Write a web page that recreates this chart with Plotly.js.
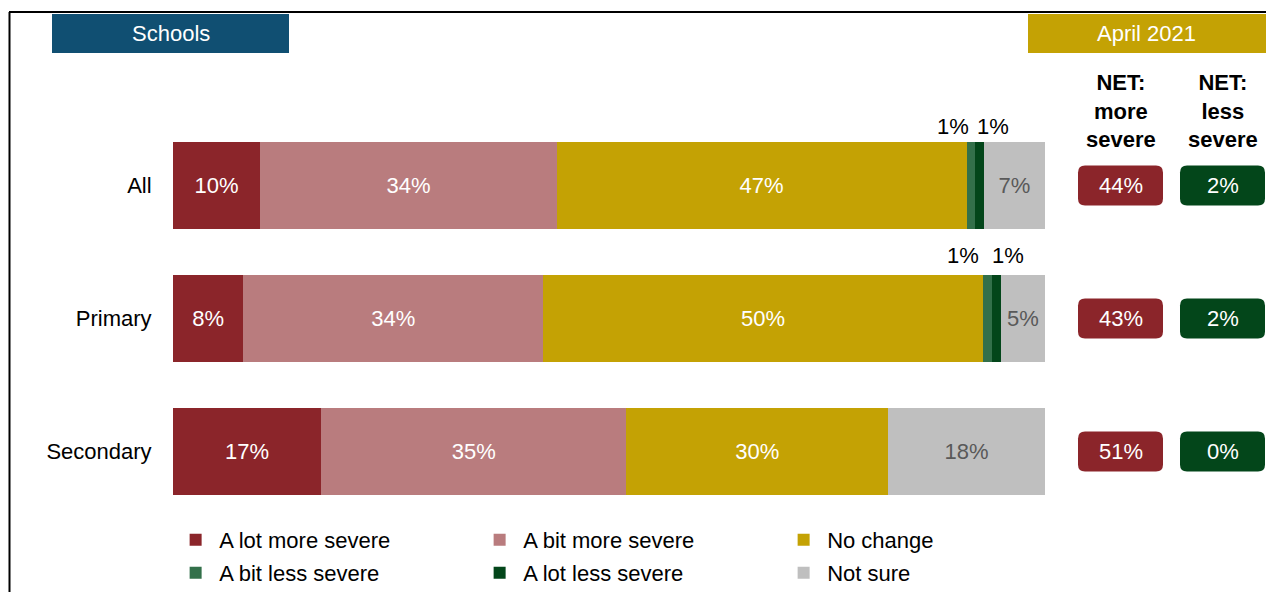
<!DOCTYPE html>
<html><head><meta charset="utf-8">
<script src="https://cdn.plot.ly/plotly-3.0.1.min.js"></script>
<style>html,body{margin:0;padding:0;background:#fff}</style>
</head><body><div id="chart" style="width:1266px;height:592px"></div>
<script>
// ---- data ----
const categories = ['All', 'Primary', 'Secondary'];
const seriesNames = ['A lot more severe', 'A bit more severe', 'No change', 'A bit less severe', 'A lot less severe', 'Not sure'];
const aLotMore = [10, 8, 17];
const aBitMore = [34, 34, 35];
const noChange = [47, 50, 30];
const aBitLess = [1, 1, 0];
const aLotLess = [1, 1, 0];
const notSure = [7, 5, 18];
const netMore = [44, 43, 51];
const netLess = [2, 2, 0];
const headerLeft = 'Schools';
const headerRight = 'April 2021';
const netMoreTitle = 'NET:<br>more<br>severe';
const netLessTitle = 'NET:<br>less<br>severe';

// ---- styling ----
const FONT = 'Liberation Sans, Arial, sans-serif';
const FS = 22;
const colors = ['#8B252A', '#B97C7E', '#C4A204', '#33704A', '#03461A', '#BFBFBF'];
const textColors = ['#FFFFFF', '#FFFFFF', '#FFFFFF', '#FFFFFF', '#FFFFFF', '#595959'];
const inBarText = [true, true, true, false, false, true];
const legendOf = ['legend', 'legend', 'legend', 'legend2', 'legend2', 'legend2'];
const series = [aLotMore, aBitMore, noChange, aBitLess, aLotLess, notSure];

const W = 1266, H = 592, L = 173, R = 221, T = 119, B = 74;
const pw = W - L - R, ph = H - T - B;
const px2x = p => (p - L) / pw;
const py2y = p => (H - B - p) / ph;

const traces = series.map((vals, i) => ({
  type: 'bar', orientation: 'h',
  y: categories, x: vals, name: seriesNames[i], legend: legendOf[i],
  marker: {color: colors[i], line: {width: 0}},
  text: inBarText[i] ? vals.map(v => v + '%') : vals.map(() => ''),
  textposition: 'inside', insidetextanchor: 'middle', constraintext: 'none',
  textfont: {family: FONT, size: FS, color: textColors[i]},
  hoverinfo: 'skip'
}));

const annotations = [];
const ann = o => annotations.push(Object.assign({showarrow: false, xanchor: 'center', yanchor: 'middle'}, o));

// small labels above the tiny segments
const smallShift = {3: [-18, -25], 4: [13, 11]};
const yShift = [59, 63, 60];
categories.forEach((c, r) => {
  const total = series.reduce((s, arr) => s + arr[r], 0);
  let cum = 0;
  series.forEach((arr, i) => {
    const v = arr[r];
    if (!inBarText[i] && v > 0) {
      ann({x: (cum + v / 2) / total * 100, y: c, xref: 'x', yref: 'y',
        text: v + '%', xshift: smallShift[i][r] || 0, yshift: yShift[r],
        font: {family: FONT, size: FS, color: '#000'}});
    }
    cum += v;
  });
});

const netCols = [{x: px2x(1120.5), vals: netMore, color: '#8B252A', title: netMoreTitle},
                 {x: px2x(1222.5), vals: netLess, color: '#03461A', title: netLessTitle}];

function roundRect(w, h, r) {
  const hw = w / 2, hh = h / 2;
  return `M ${-hw + r},${-hh} L ${hw - r},${-hh} Q ${hw},${-hh} ${hw},${-hh + r} L ${hw},${hh - r} Q ${hw},${hh} ${hw - r},${hh} L ${-hw + r},${hh} Q ${-hw},${hh} ${-hw},${hh - r} L ${-hw},${-hh + r} Q ${-hw},${-hh} ${-hw + r},${-hh} Z`;
}

const shapes = [
  {type: 'line', xref: 'paper', yref: 'paper', x0: px2x(9), x1: px2x(1266), y0: py2y(12), y1: py2y(12), line: {color: '#000', width: 2}},
  {type: 'line', xref: 'paper', yref: 'paper', x0: px2x(9.5), x1: px2x(9.5), y0: py2y(12), y1: py2y(592), line: {color: '#000', width: 2}},
  {type: 'rect', xref: 'paper', yref: 'paper', x0: px2x(52), x1: px2x(289), y0: py2y(14), y1: py2y(53), fillcolor: '#104F72', line: {width: 0}},
  {type: 'rect', xref: 'paper', yref: 'paper', x0: px2x(1028), x1: px2x(1266), y0: py2y(14), y1: py2y(53), fillcolor: '#C4A204', line: {width: 0}}
];

ann({xref: 'paper', yref: 'paper', x: px2x(170.5), y: py2y(33.5), text: headerLeft,
   font: {family: FONT, size: FS, color: '#fff'}});
ann({xref: 'paper', yref: 'paper', x: px2x(1146), y: py2y(33.5), text: headerRight,
   font: {family: FONT, size: FS, color: '#fff'}});

netCols.forEach(col => {
  ann({xref: 'paper', yref: 'paper', x: col.x, y: py2y(111), text: '<b>' + col.title.split('<br>').join('</b><br><b>') + '</b>',
    font: {family: FONT, size: FS, color: '#000'}, align: 'center'});
  categories.forEach((c, r) => {
    shapes.push({type: 'path', xref: 'paper', yref: 'y', xsizemode: 'pixel', ysizemode: 'pixel',
      xanchor: col.x, yanchor: c, path: roundRect(85, 40, 7), fillcolor: col.color, line: {width: 0}});
    ann({xref: 'paper', yref: 'y', x: col.x, y: c, text: col.vals[r] + '%',
      font: {family: FONT, size: FS, color: '#fff'}});
  });
});

const legendBase = {orientation: 'h', x: -0.001, xanchor: 'left', yanchor: 'middle', traceorder: 'normal',
  itemwidth: 37, entrywidth: 252, entrywidthmode: 'pixels', borderwidth: 0,
  font: {family: FONT, size: FS, color: '#000'}, bgcolor: 'rgba(0,0,0,0)'};

const layout = {
  width: W, height: H,
  margin: {l: L, r: R, t: T, b: B, pad: 0, autoexpand: false},
  paper_bgcolor: '#fff', plot_bgcolor: '#fff',
  barmode: 'stack', barnorm: 'percent', bargap: 0.346,
  font: {family: FONT, size: FS, color: '#000'},
  xaxis: {range: [0, 100], visible: false, fixedrange: true},
  yaxis: {type: 'category', categoryorder: 'array', categoryarray: categories, range: [2.5, -0.5],
    ticks: 'outside', ticklen: 16, tickcolor: 'rgba(0,0,0,0)', showline: false, showgrid: false, zeroline: false,
    tickfont: {family: FONT, size: FS, color: '#000'}, fixedrange: true},
  showlegend: true,
  legend: Object.assign({}, legendBase, {y: py2y(540)}),
  legend2: Object.assign({}, legendBase, {y: py2y(573)}),
  shapes: shapes,
  annotations: annotations
};

Plotly.newPlot('chart', traces, layout, {displayModeBar: false, staticPlot: true});
</script></body></html>
